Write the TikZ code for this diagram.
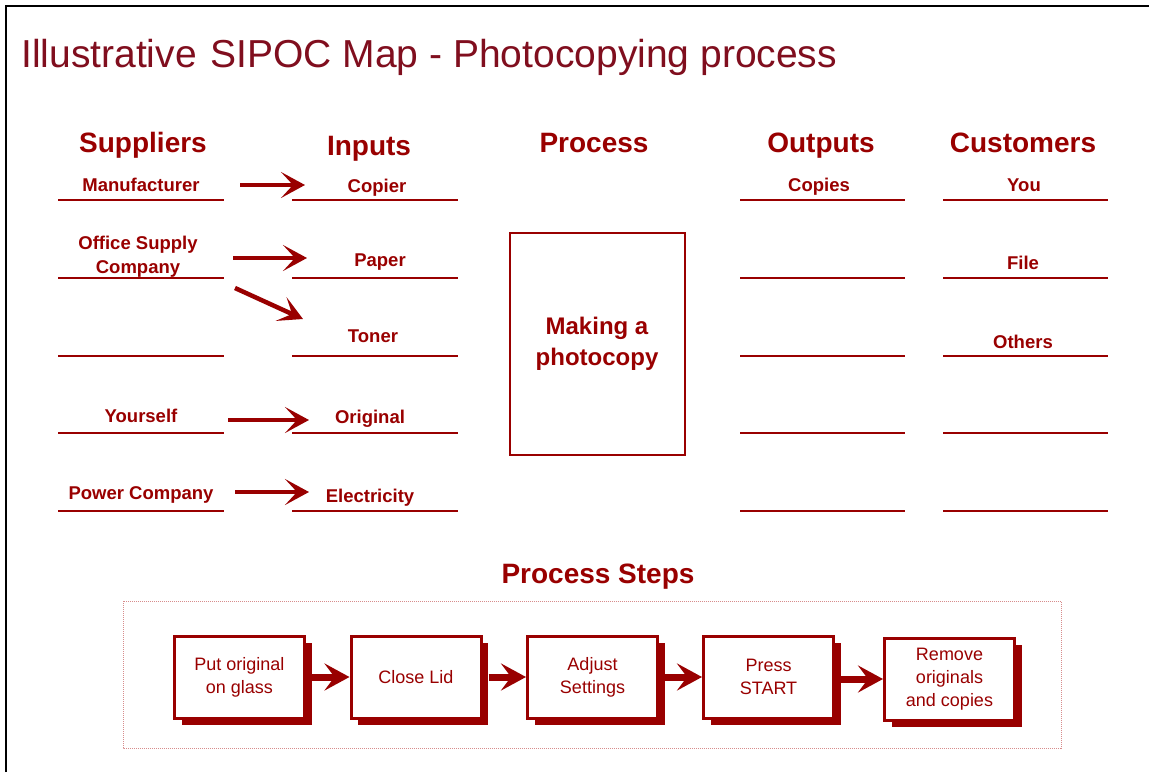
\documentclass[tikz,border=0pt]{standalone}
\usepackage{fontspec}
\setmainfont{Liberation Sans}
\usetikzlibrary{arrows.meta,shadows}
\definecolor{sred}{RGB}{153,0,0}
\definecolor{titlered}{RGB}{128,14,30}
\definecolor{dotred}{RGB}{215,140,140}

\begin{document}
\begin{tikzpicture}[x=1pt,y=-1pt,
  hdr/.style={font=\fontsize{28}{32}\selectfont\bfseries, text=sred, inner sep=0pt, anchor=base},
  lbl/.style={font=\fontsize{18.5}{24}\selectfont\bfseries, text=sred, inner sep=0pt, anchor=base, align=center},
  rule/.style={draw=sred, line width=2pt},
  flow/.style={draw=sred, line width=4.5pt, -{Stealth[length=24pt,width=26pt,inset=12pt]}},
  stepflow/.style={draw=sred, line width=7pt, -{Stealth[length=25pt,width=27pt,inset=10pt]}},
  stepbox/.style={draw=sred, line width=3pt, fill=white, minimum width=130pt, minimum height=82pt,
    inner sep=0pt, align=center, text=sred, font=\fontsize{18}{23}\selectfont,
    drop shadow={shadow xshift=7pt, shadow yshift=-7pt, fill=sred, opacity=1}},
]
\useasboundingbox (0,0) rectangle (1149,772);
\fill[white] (0,0) rectangle (1149,772);

% page frame
\draw[black, line width=2.5pt] (6,772) -- (6,6) -- (1149,6);

% title
\node[anchor=base west, inner sep=0pt, text=titlered, font=\fontsize{39}{44}\selectfont]
  (title) at (21,67) {Illustrative\ \kern3pt SIPOC Map - Photocopying process};

% column headings
\node[hdr] (hS) at (143,152) {Suppliers};
\node[hdr] (hI) at (369,155) {Inputs};
\node[hdr] (hP) at (594,152) {Process};
\node[hdr] (hO) at (821,152) {Outputs};
\node[hdr] (hC) at (1023,152) {Customers};

% writing lines
\foreach \y in {200,278,356,433,511}{
  \draw[rule] (58,\y) -- (224,\y);
  \draw[rule] (292,\y) -- (458,\y);
  \draw[rule] (740,\y) -- (905,\y);
  \draw[rule] (943,\y) -- (1108,\y);
}

% suppliers
\node[lbl] (sMan) at (141,191) {Manufacturer};
\node[lbl, anchor=center] (sOff) at (138,257) {Office Supply\\Company};
\node[lbl] (sYou) at (141,422) {Yourself};
\node[lbl] (sPow) at (141,499) {Power Company};

% inputs
\node[lbl] (iCop) at (377,192) {Copier};
\node[lbl] (iPap) at (380,266) {Paper};
\node[lbl] (iTon) at (373,342) {Toner};
\node[lbl] (iOri) at (370,423) {Original};
\node[lbl] (iEle) at (370,502) {Electricity};

% outputs and customers
\node[lbl] (oCop) at (819,191) {Copies};
\node[lbl] (cYou) at (1024,191) {You};
\node[lbl] (cFil) at (1023,269) {File};
\node[lbl] (cOth) at (1023,348) {Others};

% process box
\node[draw=sred, line width=2pt, minimum width=175pt, minimum height=222pt, inner sep=0pt,
  align=center, text=sred, font=\fontsize{24}{31}\selectfont\bfseries]
  (proc) at (597,343.5) {Making a\\photocopy};

% supplier -> input arrows
\coordinate (a1s) at (240,185); \coordinate (a1e) at (305,185);
\coordinate (a2s) at (233,258); \coordinate (a2e) at (307,258);
\coordinate (a3s) at (235,288); \coordinate (a3e) at (303,319);
\coordinate (a4s) at (228,420); \coordinate (a4e) at (309,420);
\coordinate (a5s) at (235,492); \coordinate (a5e) at (309,492);
\draw[flow] (a1s) -- (a1e);
\draw[flow] (a2s) -- (a2e);
\draw[flow] (a3s) -- (a3e);
\draw[flow] (a4s) -- (a4e);
\draw[flow] (a5s) -- (a5e);

% process steps
\node[hdr] (hSteps) at (598,583) {Process Steps};
\draw[dotred, line width=1pt, densely dotted] (123,601) rectangle (1061,748);

\node[stepbox] (st1) at (239.5,677) {Put original\\on glass};
\node[stepbox] (st2) at (416,677) {Close Lid};
\node[stepbox] (st3) at (592.5,677) {Adjust\\Settings};
\node[stepbox] (st4) at (768.5,677) {Press\\START};
\node[stepbox] (st5) at (949.5,679) {Remove\\originals\\and copies};

\draw[stepflow] ([xshift=6pt]st1.east) -- (st2.west);
\draw[stepflow] ([xshift=6pt]st2.east) -- (st3.west);
\draw[stepflow] ([xshift=6pt]st3.east) -- (st4.west);
\draw[stepflow] ([xshift=6pt]st4.east |- st5.west) -- (st5.west);
\end{tikzpicture}
\end{document}
